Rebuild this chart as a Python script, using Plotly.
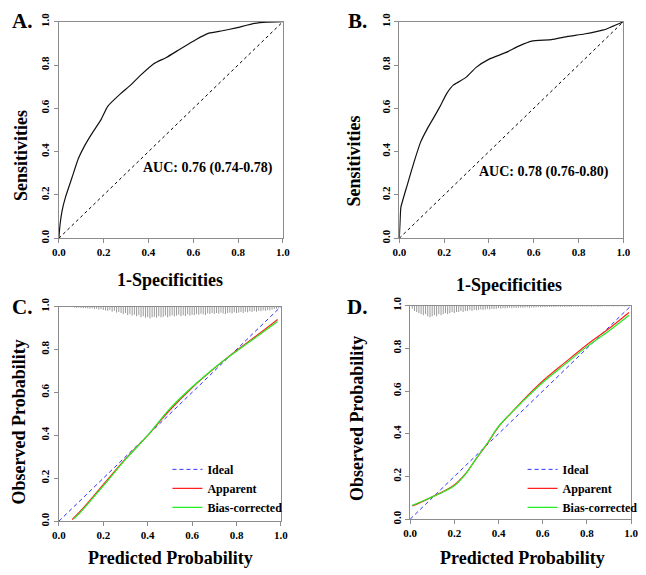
import plotly.graph_objects as go

W, H = 646, 575

# ---------------- data ----------------
roc_a_fpr = [0.0, 0.005, 0.015, 0.029, 0.058, 0.087, 0.116, 0.146, 0.189, 0.218, 0.277, 0.32,
             0.364, 0.422, 0.48, 0.539, 0.611, 0.67, 0.73, 0.786, 0.873, 0.93, 1.0]
roc_a_tpr = [0.0, 0.06, 0.13, 0.188, 0.278, 0.368, 0.429, 0.481, 0.549, 0.609, 0.669, 0.707,
             0.752, 0.805, 0.835, 0.872, 0.917, 0.947, 0.958, 0.97, 0.992, 0.998, 1.0]
roc_b_fpr = [0.0, 0.003, 0.007, 0.036, 0.066, 0.095, 0.124, 0.153, 0.182, 0.212, 0.241, 0.27, 0.299,
             0.343, 0.401, 0.474, 0.533, 0.591, 0.679, 0.752, 0.825, 0.912, 1.0]
roc_b_tpr = [0.0, 0.07, 0.143, 0.248, 0.353, 0.444, 0.504, 0.556, 0.609, 0.669, 0.707, 0.725, 0.744,
             0.789, 0.827, 0.857, 0.887, 0.91, 0.917, 0.932, 0.943, 0.962, 1.0]
auc_a = "AUC: 0.76 (0.74-0.78)"
auc_b = "AUC: 0.78 (0.76-0.80)"

cal_c_x = [0.06, 0.1, 0.2, 0.3, 0.4, 0.5, 0.6, 0.7, 0.8, 0.9, 0.985]
cal_c_app = [0.008, 0.05, 0.17, 0.29, 0.40, 0.518, 0.622, 0.712, 0.795, 0.872, 0.94]
cal_c_bc_x = [0.065, 0.1, 0.2, 0.3, 0.4, 0.5, 0.6, 0.7, 0.8, 0.9, 0.985]
cal_c_bc = [0.01, 0.045, 0.165, 0.288, 0.40, 0.525, 0.625, 0.714, 0.792, 0.866, 0.93]

cal_d_x = [0.01, 0.05, 0.1, 0.15, 0.2, 0.25, 0.3, 0.35, 0.4, 0.45, 0.5, 0.6, 0.7, 0.8, 0.9, 0.99]
cal_d_app = [0.062, 0.08, 0.105, 0.13, 0.16, 0.212, 0.285, 0.355, 0.432, 0.49, 0.545, 0.647, 0.733,
             0.817, 0.893, 0.968]
cal_d_bc = [0.065, 0.082, 0.105, 0.128, 0.157, 0.21, 0.285, 0.357, 0.435, 0.49, 0.542, 0.64, 0.725,
            0.808, 0.882, 0.955]

ideal_x = [0.0, 1.0]
ideal_y = [0.0, 1.0]

rug_c_x = [round(0.07 + 0.01 * i, 2) for i in range(93)]
rug_c_h = [0.005, 0.006, 0.005, 0.007,
           0.008, 0.007, 0.009, 0.01, 0.008, 0.012, 0.01, 0.014, 0.012, 0.016,
           0.018, 0.02, 0.016, 0.024, 0.02, 0.028, 0.025, 0.03, 0.035, 0.03,
           0.04, 0.035, 0.042, 0.038, 0.045, 0.04, 0.05, 0.045, 0.052, 0.048,
           0.055, 0.05, 0.048, 0.052, 0.045, 0.05, 0.048, 0.042, 0.05, 0.045,
           0.04, 0.046, 0.042, 0.038, 0.045, 0.04, 0.044, 0.036, 0.042, 0.038,
           0.04, 0.035, 0.038, 0.033, 0.036, 0.04, 0.032, 0.035, 0.03, 0.034,
           0.03, 0.033, 0.028, 0.032, 0.035, 0.03, 0.028, 0.032, 0.026, 0.03,
           0.028, 0.025, 0.03, 0.024, 0.027, 0.022, 0.025, 0.02, 0.024, 0.02,
           0.022, 0.018, 0.02, 0.016, 0.018, 0.014, 0.012, 0.01, 0.008]
rug_d_x = [round(0.01 + 0.01 * i, 2) for i in range(99)]
rug_d_h = [0.015, 0.025, 0.03, 0.035, 0.04,
           0.045, 0.04, 0.05, 0.055, 0.05,
           0.045, 0.05, 0.04, 0.045, 0.04,
           0.035, 0.04, 0.035, 0.03, 0.035,
           0.03, 0.03, 0.025, 0.03, 0.025,
           0.025, 0.02, 0.025, 0.02, 0.022,
           0.02, 0.018, 0.02, 0.018, 0.015,
           0.018, 0.015, 0.016, 0.015, 0.012,
           0.014, 0.012, 0.013, 0.012, 0.01,
           0.012, 0.01, 0.011, 0.01, 0.009,
           0.01, 0.009, 0.008, 0.01, 0.008, 0.009, 0.008, 0.007, 0.008, 0.007,
           0.007, 0.006, 0.007, 0.006, 0.007, 0.006, 0.005, 0.006, 0.005, 0.006,
           0.005, 0.006, 0.005, 0.004, 0.005, 0.005, 0.004, 0.005, 0.004, 0.005,
           0.004, 0.005, 0.004, 0.004, 0.005, 0.004, 0.004, 0.003, 0.004, 0.004,
           0.003, 0.004, 0.003, 0.004, 0.003, 0.003, 0.004, 0.003, 0.003]

tick_vals = [0.0, 0.2, 0.4, 0.6, 0.8, 1.0]
tick_text = ["0.0", "0.2", "0.4", "0.6", "0.8", "1.0"]

# ---------------- layout helpers ----------------
FONT = "Liberation Serif, Times New Roman, serif"


def px_x(p):
    return p / W


def px_y(p):
    return 1 - p / H


def rug_xy(xs, hs):
    rx, ry = [], []
    for xv, hv in zip(xs, hs):
        rx += [xv, xv, None]
        ry += [1.0, 1.0 - hv, None]
    return rx, ry


fig = go.Figure()

# Panel A
fig.add_trace(go.Scatter(x=ideal_x, y=ideal_y, mode="lines", xaxis="x", yaxis="y",
                         line=dict(color="black", width=1, dash="3px,3px"), showlegend=False))
fig.add_trace(go.Scatter(x=roc_a_fpr, y=roc_a_tpr, mode="lines", xaxis="x", yaxis="y",
                         line=dict(color="#111111", width=1.2, shape="spline", smoothing=0.4), showlegend=False))
# Panel B
fig.add_trace(go.Scatter(x=ideal_x, y=ideal_y, mode="lines", xaxis="x2", yaxis="y2",
                         line=dict(color="black", width=1, dash="3px,3px"), showlegend=False))
fig.add_trace(go.Scatter(x=roc_b_fpr, y=roc_b_tpr, mode="lines", xaxis="x2", yaxis="y2",
                         line=dict(color="#111111", width=1.2, shape="spline", smoothing=0.4), showlegend=False))

# Panel C
rx, ry = rug_xy(rug_c_x, rug_c_h)
fig.add_trace(go.Scatter(x=rx, y=ry, mode="lines", xaxis="x3", yaxis="y3",
                         line=dict(color="#999999", width=1), showlegend=False))
fig.add_trace(go.Scatter(x=ideal_x, y=ideal_y, mode="lines", xaxis="x3", yaxis="y3", name="Ideal",
                         line=dict(color="#3333ff", width=1, dash="4px,3px"), legend="legend"))
fig.add_trace(go.Scatter(x=cal_c_x, y=cal_c_app, mode="lines", xaxis="x3", yaxis="y3", name="Apparent",
                         line=dict(color="#ff2020", width=1.2, shape="spline"), legend="legend"))
fig.add_trace(go.Scatter(x=cal_c_bc_x, y=cal_c_bc, mode="lines", xaxis="x3", yaxis="y3", name="Bias-corrected",
                         line=dict(color="#22ee22", width=1.2, shape="spline"), legend="legend"))

# Panel D
rx, ry = rug_xy(rug_d_x, rug_d_h)
fig.add_trace(go.Scatter(x=rx, y=ry, mode="lines", xaxis="x4", yaxis="y4",
                         line=dict(color="#999999", width=1), showlegend=False))
fig.add_trace(go.Scatter(x=ideal_x, y=ideal_y, mode="lines", xaxis="x4", yaxis="y4", name="Ideal",
                         line=dict(color="#3333ff", width=1, dash="4px,3px"), legend="legend2"))
fig.add_trace(go.Scatter(x=cal_d_x, y=cal_d_app, mode="lines", xaxis="x4", yaxis="y4", name="Apparent",
                         line=dict(color="#ff2020", width=1.2, shape="spline"), legend="legend2"))
fig.add_trace(go.Scatter(x=cal_d_x, y=cal_d_bc, mode="lines", xaxis="x4", yaxis="y4", name="Bias-corrected",
                         line=dict(color="#22ee22", width=1.2, shape="spline"), legend="legend2"))

ax_common = dict(range=[0, 1], showgrid=False, zeroline=False, showline=True, mirror=True,
                 linecolor="#8c8c8c", linewidth=1, ticks="outside", ticklen=4, tickcolor="#8c8c8c",
                 tickvals=tick_vals, ticktext=tick_text,
                 tickfont=dict(family=FONT, size=11, color="black", weight="bold"), fixedrange=True)

panels = {
    "": ((53, 282), (13, 235)),
    "2": ((401, 630), (13, 235)),
    "3": ((53, 280), (305, 525)),
    "4": ((412, 638), (304, 523)),
}
for k, ((x0, x1), (y0, y1)) in panels.items():
    fig.layout["xaxis" + k] = dict(ax_common, domain=[px_x(x0), px_x(x1)], anchor="y" + k)
    fig.layout["yaxis" + k] = dict(ax_common, domain=[px_y(y1), px_y(y0)], anchor="x" + k, tickangle=-90)

annotations = []


def add_text(text, x, y, size, angle=0, xanchor="center"):
    annotations.append(dict(text="<b>" + text + "</b>", x=px_x(x), y=px_y(y), xref="paper", yref="paper",
                            showarrow=False, textangle=angle, xanchor=xanchor, yanchor="middle",
                            font=dict(family=FONT, size=size, color="black")))


add_text("A.", 3, 12, 21, xanchor="left")
add_text("B.", 347, 12, 21, xanchor="left")
add_text("C.", 3, 305, 21, xanchor="left")
add_text("D.", 345, 305, 21, xanchor="left")
add_text("1-Specificities", 167, 278, 18)
add_text("1-Specificities", 513, 283, 18)
add_text("Sensitivities", 15, 150, 18, angle=-90)
add_text("Sensitivities", 355, 156, 18, angle=-90)
add_text("Predicted Probability", 167, 563, 18)
add_text("Predicted Probability", 527, 563, 18)
add_text("Observed Probability", 12, 423, 18, angle=-90)
add_text("Observed Probability", 358, 420, 18, angle=-90)

# AUC labels placed in data coordinates
annotations.append(dict(text="<b>" + auc_a + "</b>", x=0.367, y=0.324, xref="x", yref="y", showarrow=False,
                        xanchor="left", yanchor="middle", font=dict(family=FONT, size=14, color="black")))
annotations.append(dict(text="<b>" + auc_b + "</b>", x=0.345, y=0.306, xref="x2", yref="y2", showarrow=False,
                        xanchor="left", yanchor="middle", font=dict(family=FONT, size=14, color="black")))

legend_style = dict(font=dict(family=FONT, size=12, color="black", weight="bold"), bgcolor="rgba(0,0,0,0)",
                    itemwidth=30, xanchor="left", yanchor="top", tracegroupgap=0)

fig.update_layout(
    width=W, height=H, margin=dict(l=0, r=0, t=0, b=0),
    paper_bgcolor="white", plot_bgcolor="white",
    annotations=annotations,
    showlegend=True,
    legend=dict(legend_style, x=px_x(164), y=px_y(457)),
    legend2=dict(legend_style, x=px_x(527), y=px_y(457)),
)

fig.write_html("out.html")
